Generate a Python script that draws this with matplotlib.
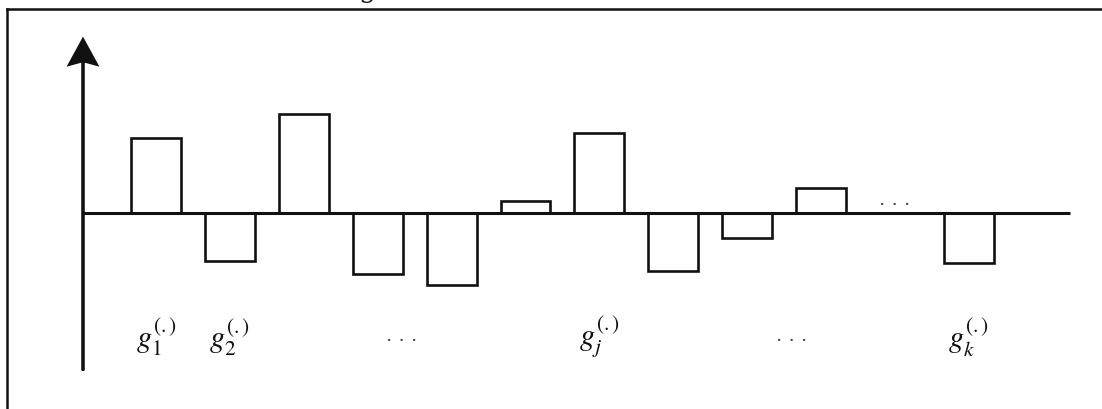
import matplotlib
matplotlib.use("Agg")
import matplotlib.pyplot as plt
from matplotlib.lines import Line2D

# bar slots (slot 10 is left empty, drawn as "...")
slots = [0, 1, 2, 3, 4, 5, 6, 7, 8, 9, 11]
values = [75, -48, 99, -61, -72, 12, 80, -58, -25, 25, -50]

label_pos = [0, 1, 3.33, 6, 8.6, 11]
label_text = [r"$g_{1}^{(.)}$", r"$g_{2}^{(.)}$", ". . .",
              r"$g_{j}^{(.)}$", ". . .", r"$g_{k}^{(.)}$"]

plt.rcParams['mathtext.fontset'] = 'stix'
plt.rcParams['font.family'] = ['serif']

W, H = 1102, 410
fig = plt.figure(figsize=(W / 100, H / 100), dpi=100)
ax = fig.add_axes([0, 0, 1, 1])
ax.set_axis_off()

# pixel mapping: slot i -> 156 + 73.9*i px, value 0 -> 213.5 px from top
step = 73.9
ax.set_xlim((0 - 156) / step, (W - 156) / step)
ax.set_ylim(213.5 - H, 213.5)

ax.bar(slots, values, width=0.675, facecolor='white', edgecolor='#111111',
       linewidth=1.9, zorder=3)

# baseline and vertical axis with arrow
x_axis = (83 - 156) / step
ax.plot([x_axis, (1070 - 156) / step], [0, 0], color='#111111', lw=2.2, zorder=4,
        solid_capstyle='butt')
ax.arrow(x_axis, -158, 0, 306, width=0.0, head_width=0.37, head_length=25,
         overhang=0.15, length_includes_head=False, color='#111111', lw=2.0,
         zorder=4)

# dots above the axis in the empty slot
ax.text(10, 13, ". . .", ha='center', va='center', fontsize=14, color='#444444')

for p, t in zip(label_pos, label_text):
    if t.startswith('.'):
        ax.text(p, -123, t, ha='center', va='center', fontsize=14, color='#444444')
    else:
        ax.text(p, -124, t, ha='center', va='center', fontsize=22,
                color='#111111')

# page frame (left and top edges only visible)
fig.add_artist(Line2D([7 / W, 7 / W], [0, 1 - 10 / H], color='#111111', lw=1.8))
fig.add_artist(Line2D([7 / W, 1], [1 - 10 / H, 1 - 10 / H], color='#111111', lw=1.8))

# clipped caption remnant at the very top (only the descender shows)
fig.text(368 / W, 1.0 + 3 / H, "g", ha='center', va='baseline', fontsize=20,
         color='#222222')

fig.savefig("out.png", dpi=100, facecolor='white')
